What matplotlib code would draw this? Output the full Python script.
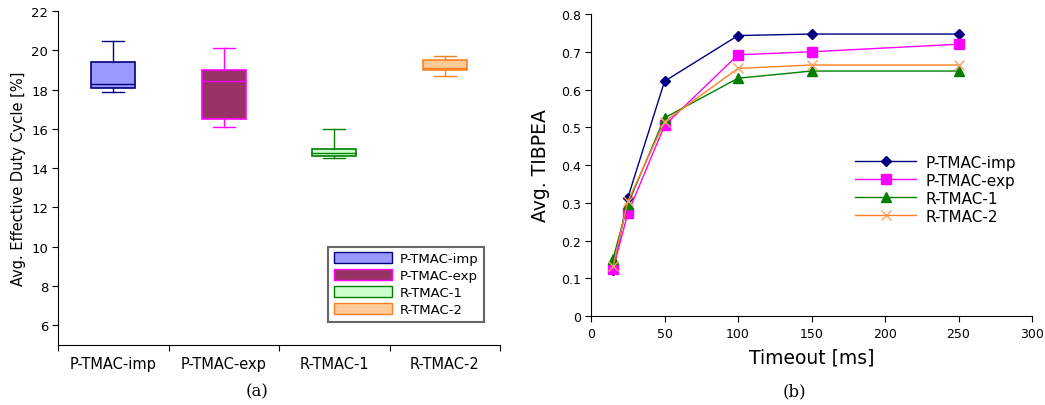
import matplotlib
matplotlib.use("Agg")
import matplotlib.pyplot as plt
from matplotlib.patches import Patch

plt.rcParams['font.family'] = ['DejaVu Sans']

# (a) duty cycle box plot
protocols = ["P-TMAC-imp", "P-TMAC-exp", "R-TMAC-1", "R-TMAC-2"]
whisker_low = [17.9, 16.1, 14.5, 18.7]
box_q1 = [18.1, 16.5, 14.6, 19.0]
box_median = [18.3, 18.45, 14.8, 19.1]
box_q3 = [19.4, 19.0, 15.0, 19.5]
whisker_high = [20.5, 20.1, 16.0, 19.7]

box_faces = ["#9999ff", "#993366", "#ccffcc", "#ffcc99"]
box_edges = ["#000080", "#ff00ff", "#008000", "#ff8020"]

# (b) TIBPEA vs. timeout
timeout_ms = [15, 25, 50, 100, 150, 250]
tibpea_imp = [0.121, 0.313, 0.622, 0.743, 0.747, 0.747]
tibpea_exp = [0.125, 0.272, 0.505, 0.692, 0.700, 0.720]
tibpea_r1 = [0.152, 0.296, 0.525, 0.630, 0.649, 0.649]
tibpea_r2 = [0.132, 0.304, 0.515, 0.656, 0.665, 0.665]

fig = plt.figure(figsize=(10.45, 4.06), dpi=100)

ax1 = fig.add_axes([0.0555, 0.148, 0.423, 0.822])
stats = []
for i, name in enumerate(protocols):
    stats.append(dict(label=name, whislo=whisker_low[i], q1=box_q1[i], med=box_median[i],
                      q3=box_q3[i], whishi=whisker_high[i], fliers=[]))
positions = [i + 0.5 for i in range(len(protocols))]
parts = ax1.bxp(stats, positions=positions, widths=0.4, patch_artist=True,
                showfliers=False, manage_ticks=False)
for i in range(len(protocols)):
    parts['boxes'][i].set_facecolor(box_faces[i])
    parts['boxes'][i].set_edgecolor(box_edges[i])
    parts['boxes'][i].set_linewidth(1.2)
    parts['medians'][i].set_color(box_edges[i])
    parts['medians'][i].set_linewidth(1.0)
    for ln in parts['whiskers'][2 * i:2 * i + 2] + parts['caps'][2 * i:2 * i + 2]:
        ln.set_color(box_edges[i])
        ln.set_linewidth(1.0)

ax1.set_xlim(0, 4)
ax1.set_ylim(5, 22)
ax1.set_yticks(range(6, 23, 2))
ax1.set_xticks(range(5))
ax1.set_xticklabels([])
ax1.set_xticks(positions, minor=True)
ax1.set_xticklabels(protocols, minor=True, fontsize=10.5)
ax1.tick_params(axis='x', which='minor', length=0, pad=8)
ax1.tick_params(axis='x', which='major', length=4, direction='out')
ax1.tick_params(axis='y', labelsize=9.5, length=4, pad=3)
ax1.spines['top'].set_visible(False)
ax1.spines['right'].set_visible(False)
ax1.set_ylabel("Avg. Effective Duty Cycle [%]", fontsize=10.5, labelpad=4)

handles1 = [Patch(facecolor=box_faces[i], edgecolor=box_edges[i], label=protocols[i])
            for i in range(len(protocols))]
leg1 = ax1.legend(handles=handles1, loc='lower right', bbox_to_anchor=(0.963, 0.07),
                  fontsize=9.5, frameon=True, fancybox=False, edgecolor='#404040',
                  handlelength=4.4, handleheight=0.9, handletextpad=0.6, labelspacing=0.3,
                  borderpad=0.4, borderaxespad=0)
leg1.get_frame().set_linewidth(1.5)
fig.text(0.246, 0.034, "(a)", ha='center', va='center', fontsize=12, family='DejaVu Serif')

# right panel
ax2 = fig.add_axes([0.5656, 0.219, 0.422, 0.744])
ax2.plot(timeout_ms, tibpea_imp, color="#000080", marker='D', markersize=5, lw=1.0,
         label="P-TMAC-imp")
ax2.plot(timeout_ms, tibpea_exp, color="#ff00ff", marker='s', markersize=6.5, lw=1.0,
         label="P-TMAC-exp")
ax2.plot(timeout_ms, tibpea_r1, color="#008000", marker='^', markersize=6.5, lw=1.0,
         label="R-TMAC-1")
ax2.plot(timeout_ms, tibpea_r2, color="#ff8020", marker='x', markersize=7, lw=1.0,
         markeredgecolor="#ffa060", label="R-TMAC-2")
ax2.set_xlim(0, 300)
ax2.set_ylim(0, 0.8)
ax2.set_xticks(range(0, 301, 50))
ax2.set_yticks([0, 0.1, 0.2, 0.3, 0.4, 0.5, 0.6, 0.7, 0.8])
ax2.set_yticklabels(["0", "0.1", "0.2", "0.3", "0.4", "0.5", "0.6", "0.7", "0.8"])
ax2.tick_params(labelsize=9, length=4)
ax2.spines['top'].set_visible(False)
ax2.spines['right'].set_visible(False)
ax2.set_xlabel("Timeout [ms]", fontsize=13.5, labelpad=6)
ax2.set_ylabel("Avg. TIBPEA", fontsize=13.5, labelpad=8)
ax2.legend(loc='center right', bbox_to_anchor=(0.995, 0.42), fontsize=11, frameon=False,
           handlelength=4, labelspacing=0.2, handletextpad=0.6)
fig.text(0.760, 0.034, "(b)", ha='center', va='center', fontsize=12, family='DejaVu Serif')

fig.savefig("out.png", dpi=100)
